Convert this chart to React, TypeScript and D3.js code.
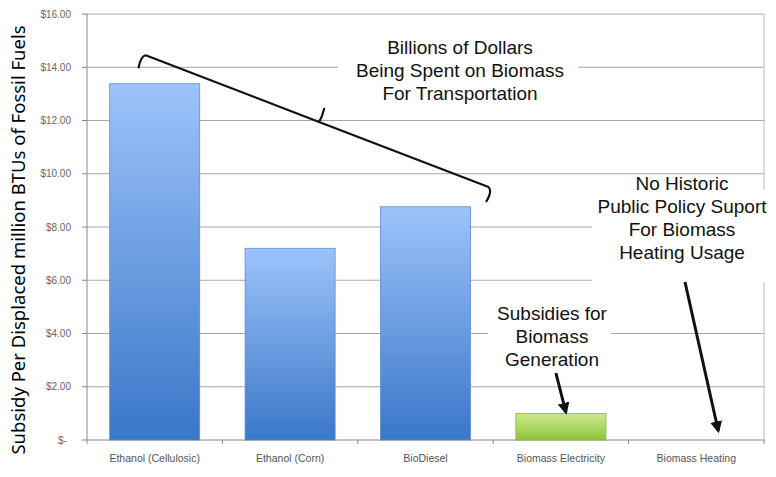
import * as d3 from "d3";

const categories = [
  "Ethanol (Cellulosic)",
  "Ethanol (Corn)",
  "BioDiesel",
  "Biomass Electricity",
  "Biomass Heating",
];
const subsidy = [13.38, 7.2, 8.76, 1.0, 0];
const greenBars = ["Biomass Electricity"];
const yTicks = [0, 2, 4, 6, 8, 10, 12, 14, 16];

const transportNote = ["Billions of Dollars", "Being Spent on Biomass", "For Transportation"];
const generationNote = ["Subsidies for", "Biomass", "Generation"];
const heatingNote = ["No Historic", "Public Policy Suport", "For Biomass", "Heating Usage"];

const W = 776;
const H = 477;
const left = 87;
const right = 764;
const top = 14;
const bottom = 440;

const annoFont = "'Liberation Sans', Arial, sans-serif";

export default function App() {
  const x = d3.scaleBand<string>().domain(categories).range([left, right]).paddingInner(0.335).paddingOuter(0.1675);
  const y = d3.scaleLinear().domain([0, 16]).range([bottom, top]);
  const fmt = (v: number) => (v === 0 ? "$-" : `$${v.toFixed(2)}`);

  const band = x.step();
  const boundaries = d3.range(categories.length + 1).map((i) => left + i * band);

  // bracket over the transportation bars
  const b0 = x("Ethanol (Cellulosic)")! + x.bandwidth() * 0.4;
  const b1 = x("BioDiesel")! + x.bandwidth() + 18;
  const by0 = y(14.45);
  const by1 = y(9.5);
  const mx = (b0 + b1) / 2 + 2;
  const my = by0 + ((mx - b0) / (b1 - b0)) * (by1 - by0);
  const bracket = d3.path();
  bracket.moveTo(b0 - 7, by0 + 12);
  bracket.quadraticCurveTo(b0 - 5, by0 + 1, b0, by0);
  bracket.lineTo(mx, my);
  bracket.quadraticCurveTo(mx + 3, my - 5, mx + 5, my - 13);
  bracket.moveTo(mx, my);
  bracket.lineTo(b1, by1);
  bracket.quadraticCurveTo(b1 + 4, by1 + 4, b1 - 2, by1 + 14);

  const heatX = x("Biomass Heating")! + x.bandwidth() / 2;
  const elecX = x("Biomass Electricity")! + x.bandwidth() / 2;

  return (
    <div style={{ position: "fixed", left: 0, top: 0 }}>
      <svg width={W} height={H} style={{ display: "block", background: "#fff" }}>
        <defs>
          <linearGradient id="blueGrad" x1="0" x2="0" y1="0" y2="1">
            <stop offset="0%" stopColor="#9dc3fa" />
            <stop offset="100%" stopColor="#3a77c8" />
          </linearGradient>
          <linearGradient id="greenGrad" x1="0" x2="0" y1="0" y2="1">
            <stop offset="0%" stopColor="#cdea8c" />
            <stop offset="100%" stopColor="#8cc43c" />
          </linearGradient>
          <marker id="arrow" viewBox="0 0 10 10" refX="8" refY="5" markerWidth="4" markerHeight="4" orient="auto">
            <path d="M0,0 L10,5 L0,10 z" fill="#111" />
          </marker>
        </defs>

        {/* gridlines */}
        {yTicks.map((t) => (
          <line key={t} x1={left} x2={right} y1={y(t)} y2={y(t)} stroke={t === 0 ? "#888" : "#a8a8a8"} strokeWidth={1} />
        ))}
        <line x1={right} x2={right} y1={top} y2={bottom} stroke="#b8b8b8" />
        <line x1={left} x2={left} y1={top} y2={bottom} stroke="#888" />

        {/* y ticks */}
        {yTicks.map((t) => (
          <g key={t}>
            <line x1={left - 5} x2={left} y1={y(t)} y2={y(t)} stroke="#888" />
            <text
              x={t === 0 ? 58 : 71}
              y={y(t) + 3.5}
              textAnchor={t === 0 ? "start" : "end"}
              fill="#666"
              style={{ fontSize: 10, fontFamily: annoFont }}
            >
              {fmt(t)}
            </text>
          </g>
        ))}

        {/* x ticks */}
        {boundaries.map((bx, i) => (
          <line key={i} x1={bx} x2={bx} y1={bottom} y2={bottom + 4} stroke="#888" />
        ))}

        {/* bars */}
        {categories.map((c, i) =>
          subsidy[i] > 0 ? (
            <rect
              key={c}
              x={x(c)}
              y={y(subsidy[i])}
              width={x.bandwidth()}
              height={y(0) - y(subsidy[i])}
              fill={greenBars.includes(c) ? "url(#greenGrad)" : "url(#blueGrad)"}
              stroke={greenBars.includes(c) ? "#86b83a" : "#5b8dd6"}
              strokeWidth={0.8}
            />
          ) : null
        )}

        {/* category labels */}
        {categories.map((c) => (
          <text
            key={c}
            x={x(c)! + x.bandwidth() / 2}
            y={462}
            textAnchor="middle"
            fill="#555"
            style={{ fontSize: 10.5, fontFamily: annoFont }}
          >
            {c}
          </text>
        ))}

        {/* y axis title */}
        <text
          transform={`translate(25, ${(8 + 472) / 2}) rotate(-90)`}
          textAnchor="middle"
          fill="#000"
          style={{ fontSize: 18.5, fontFamily: "'Noto Sans', 'Open Sans', sans-serif" }}
        >
          Subsidy Per Displaced million BTUs of Fossil Fuels
        </text>

        {/* bracket */}
        <path d={bracket.toString()} fill="none" stroke="#111" strokeWidth={2.2} strokeLinejoin="round" strokeLinecap="round" />

        {/* transportation note */}
        <rect x={338} y={33} width={240} height={72} fill="#fff" />
        {transportNote.map((s, i) => (
          <text key={s} x={460} y={54 + i * 23} textAnchor="middle" fill="#111" style={{ fontSize: 19, fontFamily: annoFont }}>
            {s}
          </text>
        ))}

        {/* generation note */}
        <rect x={488} y={298} width={123} height={72} fill="#fff" />
        {generationNote.map((s, i) => (
          <text key={s} x={552} y={320 + i * 23} textAnchor="middle" fill="#111" style={{ fontSize: 19, fontFamily: annoFont }}>
            {s}
          </text>
        ))}
        <line
          x1={elecX - 5}
          y1={373}
          x2={elecX + 5}
          y2={y(subsidy[3]) - 1}
          stroke="#111"
          strokeWidth={3}
          markerEnd="url(#arrow)"
        />

        {/* heating note */}
        <rect x={592} y={190} width={180} height={92} fill="#fff" />
        {heatingNote.map((s, i) => (
          <text key={s} x={682} y={190 + i * 23} textAnchor="middle" fill="#111" style={{ fontSize: 19, fontFamily: annoFont }}>
            {s}
          </text>
        ))}
        <line x1={685} y1={282} x2={heatX + 22} y2={y(0) - 9} stroke="#111" strokeWidth={3} markerEnd="url(#arrow)" />
      </svg>
    </div>
  );
}
